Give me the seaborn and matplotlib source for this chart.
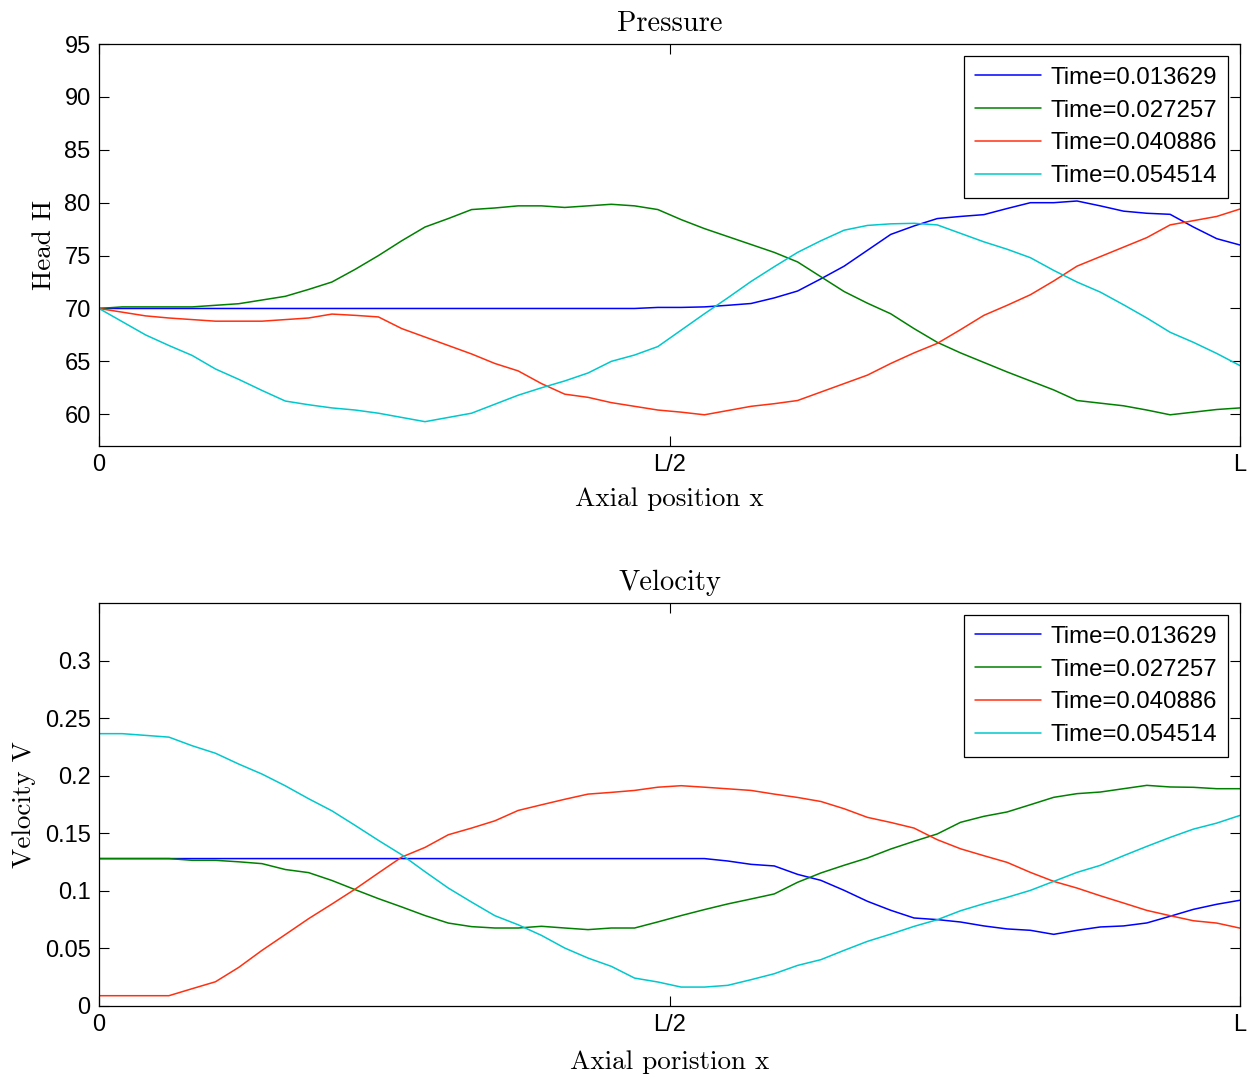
import numpy as np
import pandas as pd
import matplotlib
matplotlib.use("Agg")
import matplotlib.pyplot as plt
import seaborn as sns

# ---- data: 50 grid points along the pipe, x from 0 to L ----
n_points = 50
x_pos = np.linspace(0.0, 1.0, n_points)

time_labels = ["Time=0.013629", "Time=0.027257", "Time=0.040886", "Time=0.054514"]
line_colors = ["#0000ff", "#008000", "#ff3010", "#00c8cc"]

head_t1 = [70.0] * 24 + [70.1, 70.1, 70.15, 70.3, 70.47, 71.0, 71.65, 72.8, 74.0, 75.5,
                         77.0, 77.8, 78.5, 78.7, 78.87, 79.45, 80.0, 80.0, 80.16, 79.7,
                         79.2, 79.0, 78.9, 77.7, 76.6, 76.0]
head_t2 = [70.0, 70.15, 70.15, 70.15, 70.15, 70.3, 70.45, 70.8, 71.15, 71.8,
           72.5, 73.7, 75.0, 76.4, 77.7, 78.5, 79.35, 79.5, 79.7, 79.7,
           79.55, 79.7, 79.85, 79.7, 79.35, 78.4, 77.55, 76.8, 76.05, 75.3,
           74.4, 73.0, 71.6, 70.5, 69.5, 68.1, 66.8, 65.8, 64.9, 64.0,
           63.15, 62.3, 61.3, 61.05, 60.8, 60.4, 59.95, 60.2, 60.45, 60.6]
head_t3 = [70.0, 69.65, 69.3, 69.1, 68.95, 68.8, 68.8, 68.8, 68.95, 69.1,
           69.47, 69.35, 69.2, 68.1, 67.3, 66.5, 65.7, 64.8, 64.1, 62.9,
           61.9, 61.6, 61.1, 60.75, 60.4, 60.2, 59.95, 60.35, 60.75, 61.0,
           61.3, 62.1, 62.9, 63.7, 64.8, 65.8, 66.7, 68.0, 69.35, 70.3,
           71.3, 72.6, 74.0, 74.9, 75.8, 76.7, 77.9, 78.3, 78.7, 79.4]
head_t4 = [70.0, 68.75, 67.5, 66.5, 65.56, 64.28, 63.3, 62.25, 61.25, 60.9,
           60.6, 60.4, 60.1, 59.7, 59.3, 59.7, 60.1, 60.95, 61.8, 62.5,
           63.15, 63.9, 65.0, 65.6, 66.4, 67.95, 69.5, 71.0, 72.55, 73.95,
           75.3, 76.4, 77.4, 77.85, 78.0, 78.05, 77.9, 77.1, 76.3, 75.6,
           74.8, 73.6, 72.5, 71.55, 70.35, 69.1, 67.75, 66.8, 65.75, 64.6]

vel_t1 = [0.128] * 27 + [0.1259, 0.123, 0.1216, 0.1143, 0.1091, 0.1004, 0.0909, 0.0831, 0.0764,
                         0.075, 0.0729, 0.0695, 0.0669, 0.0657, 0.0622, 0.0657, 0.0686, 0.0695,
                         0.0721, 0.0779, 0.0839, 0.0883, 0.0918]
vel_t2 = [0.128, 0.128, 0.128, 0.128, 0.1265, 0.1265, 0.1252, 0.1236, 0.1185, 0.1158,
          0.109, 0.101, 0.0932, 0.086, 0.0785, 0.072, 0.0689, 0.0677, 0.0677, 0.0692,
          0.0677, 0.0663, 0.0677, 0.0677, 0.073, 0.0785, 0.0837, 0.0886, 0.0929, 0.0973,
          0.1074, 0.1155, 0.1222, 0.1285, 0.1363, 0.143, 0.1494, 0.1595, 0.1647, 0.1685,
          0.1748, 0.1812, 0.1844, 0.1858, 0.1887, 0.1916, 0.1902, 0.1899, 0.1887, 0.1887]
vel_t3 = [0.0089, 0.0089, 0.0089, 0.0089, 0.015, 0.021, 0.0335, 0.0483, 0.062, 0.0758,
          0.0885, 0.1015, 0.1155, 0.1293, 0.1377, 0.1487, 0.1545, 0.1608, 0.1698, 0.1747,
          0.1795, 0.184, 0.1855, 0.1872, 0.19, 0.1913, 0.19, 0.1886, 0.1872, 0.184,
          0.1811, 0.1776, 0.1713, 0.1638, 0.1594, 0.1545, 0.1444, 0.1365, 0.1305, 0.1247,
          0.116, 0.1082, 0.1024, 0.0957, 0.0894, 0.083, 0.0784, 0.074, 0.072, 0.0676]
vel_t4 = [0.2365, 0.2365, 0.235, 0.2335, 0.226, 0.2195, 0.2101, 0.2014, 0.1912, 0.18,
          0.1695, 0.1568, 0.1438, 0.1313, 0.1166, 0.1024, 0.0902, 0.0784, 0.0705, 0.0613,
          0.0503, 0.0416, 0.0344, 0.0242, 0.0208, 0.0164, 0.0164, 0.0179, 0.0228, 0.028,
          0.0352, 0.0402, 0.0483, 0.0561, 0.0624, 0.0691, 0.0749, 0.0827, 0.0888, 0.0943,
          0.1004, 0.1082, 0.116, 0.1221, 0.1305, 0.1386, 0.1464, 0.1536, 0.1588, 0.1655]

x_tick_pos = [0.0, 0.5, 1.0]
x_tick_labels = ["0", "L/2", "L"]
head_ticks = [60, 65, 70, 75, 80, 85, 90, 95]
vel_ticks = [0, 0.05, 0.1, 0.15, 0.2, 0.25, 0.3]
vel_tick_labels = ["0", "0.05", "0.1", "0.15", "0.2", "0.25", "0.3"]


def long_table(series, name):
    rows = []
    for label, values in zip(time_labels, series):
        rows.append(pd.DataFrame({"x": x_pos, name: values, "series": label}))
    return pd.concat(rows, ignore_index=True)


head_df = long_table([head_t1, head_t2, head_t3, head_t4], "H")
vel_df = long_table([vel_t1, vel_t2, vel_t3, vel_t4], "V")

# ---- styling ----
sns.set_style("ticks")
plt.rcParams["font.family"] = ["Liberation Sans", "DejaVu Sans"]
plt.rcParams["text.color"] = "black"
plt.rcParams["axes.labelcolor"] = "black"
plt.rcParams["xtick.color"] = "black"
plt.rcParams["ytick.color"] = "black"
plt.rcParams["xtick.direction"] = "in"
plt.rcParams["ytick.direction"] = "in"
plt.rcParams["xtick.major.size"] = 7.2
plt.rcParams["ytick.major.size"] = 7.2
plt.rcParams["xtick.major.width"] = 0.8
plt.rcParams["ytick.major.width"] = 0.8
plt.rcParams["axes.linewidth"] = 0.9
plt.rcParams["axes.edgecolor"] = "black"

serif = ["cmr10", "DejaVu Serif"]
tick_size = 17
legend_size = 17.3
label_size = 19.5
title_size = 20.5

fig = plt.figure(figsize=(12.52, 10.76), dpi=100)
ax_h = fig.add_axes([0.0791, 0.5855, 0.9113, 0.3736])
ax_v = fig.add_axes([0.0791, 0.0651, 0.9113, 0.3745])

palette = dict(zip(time_labels, line_colors))

sns.lineplot(data=head_df, x="x", y="H", hue="series", palette=palette,
             estimator=None, errorbar=None, linewidth=1.1, ax=ax_h)
sns.lineplot(data=vel_df, x="x", y="V", hue="series", palette=palette,
             estimator=None, errorbar=None, linewidth=1.1, ax=ax_v)

panels = [
    (ax_h, "Pressure", "Axial position x", "Head H", (57, 95), head_ticks, [str(t) for t in head_ticks], 8),
    (ax_v, "Velocity", "Axial poristion x", "Velocity V", (0, 0.35), vel_ticks, vel_tick_labels, 10),
]

for ax, title, xlab, ylab, ylim, yt, ytl, xpad in panels:
    ax.set_xlim(0, 1)
    ax.set_ylim(*ylim)
    ax.set_xticks(x_tick_pos)
    ax.set_xticklabels(x_tick_labels)
    ax.set_yticks(yt)
    ax.set_yticklabels(ytl)
    ax.tick_params(axis="both", labelsize=tick_size, top=True, right=True, pad=6, colors="black")
    ax.set_title(title, fontsize=title_size, family=serif, pad=9.5)
    ax.set_xlabel(xlab, fontsize=label_size, family=serif, labelpad=xpad)
    ax.set_ylabel(ylab, fontsize=label_size, family=serif, labelpad=6)
    for sp in ax.spines.values():
        sp.set_visible(True)
        sp.set_color("black")
    leg = ax.legend(loc="upper right", fontsize=legend_size, frameon=True, fancybox=False,
                    edgecolor="black", framealpha=1.0, handlelength=2.75, handletextpad=0.4,
                    labelspacing=0.45, borderpad=0.45, borderaxespad=0.5, title=None)
    leg.get_frame().set_linewidth(0.9)
    for text in leg.get_texts():
        text.set_color("black")
    for line in leg.get_lines():
        line.set_linewidth(1.1)

fig.savefig("out.png", dpi=100, facecolor="white")
